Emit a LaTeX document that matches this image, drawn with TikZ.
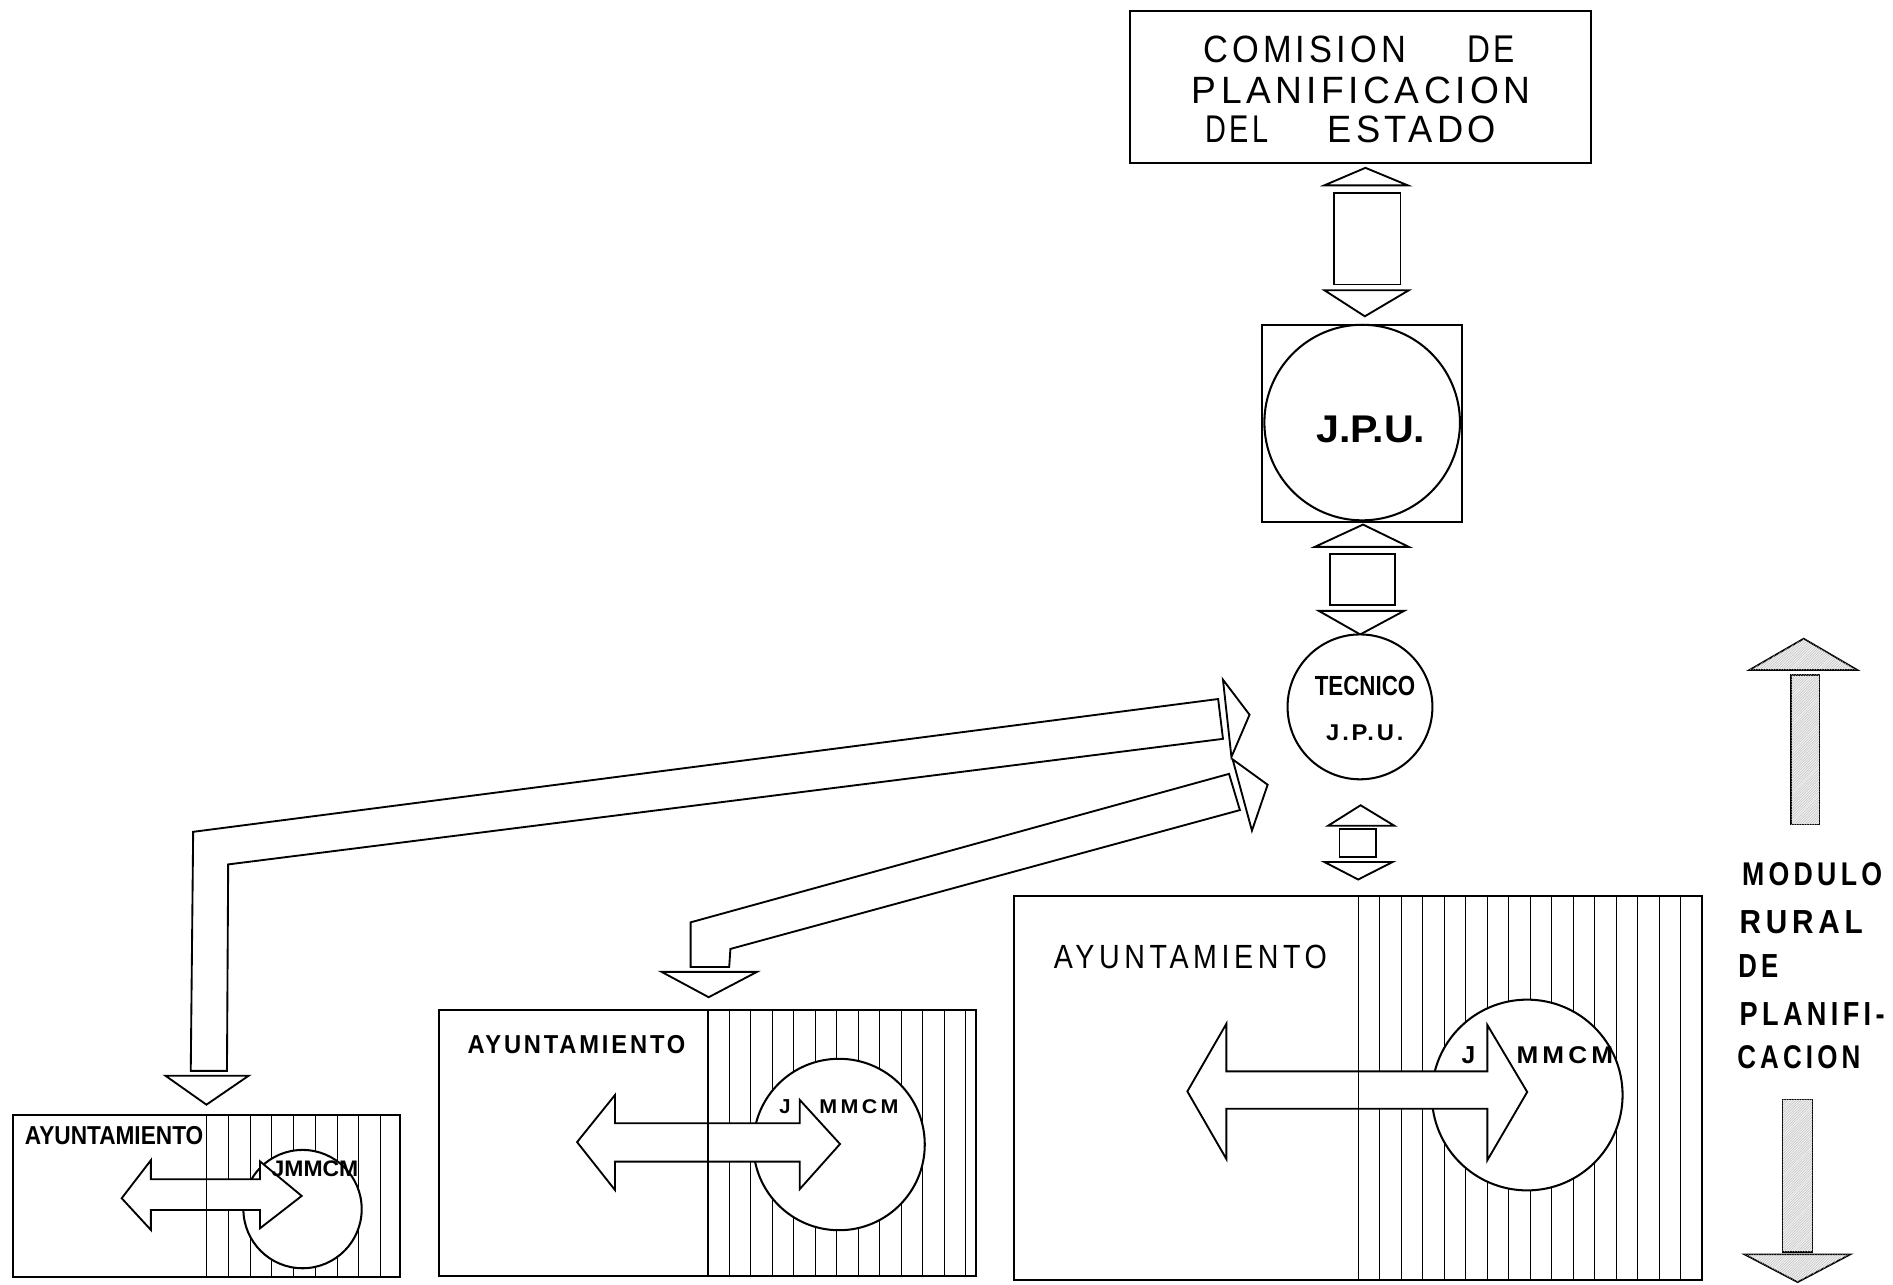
\documentclass[tikz,border=0pt]{standalone}
\usepackage{graphicx}
\usepackage{fontspec}
\setmainfont{Liberation Sans}
\newfontfamily\lsf[LetterSpace=12]{Liberation Sans}
\newfontfamily\lsw[LetterSpace=16]{Liberation Sans}
\usetikzlibrary{patterns}
\newlength\du \setlength\du{0.5mm}
\newcommand{\fitt}[3]{\resizebox{#1\du}{#2\du}{#3}}
\newcommand{\fith}[2]{\resizebox{!}{#1\du}{#2}}
\tikzset{
  stripe/.style={draw=black, line width=1.3pt},
  blk/.style={draw=black, line width=2.2pt, fill=white, line join=miter},
  hatched/.style={draw=black, line width=2pt, fill=gray!12, postaction={pattern=north east lines, pattern color=gray!55}},
  lbl/.style={inner sep=0pt, outer sep=0pt, anchor=west, text=black},
  ring/.style={circle, draw=black, line width=2.4pt, fill=white, inner sep=0pt},
  frame/.style={rectangle, draw=black, line width=2.4pt, inner sep=0pt},
}
\begin{document}
\begin{tikzpicture}[x=0.5mm,y=-0.5mm]
\useasboundingbox (0,0) rectangle (1568,1064);
\fill[white] (0,0) rectangle (1568,1064);

% ---------- top chain ----------
\node[frame, minimum width=191mm, minimum height=63mm] (cpe) at (1127,72) {};
\node[lbl] (t1a) at (996.7,40.7) {\fitt{168}{22}{\lsf COMISION}};
\node[lbl] (t1b) at (1215.4,40.7) {\fitt{39.6}{22}{\lsf DE}};
\node[lbl] (t2) at (987.2,74.9) {\fitt{280.5}{22}{\lsf PLANIFICACION}};
\node[lbl] (t3a) at (998.3,106.9) {\fitt{52.3}{22}{\lsf DEL}};
\node[lbl] (t3b) at (1099.7,106.9) {\fitt{139.5}{22}{\lsf ESTADO}};

% connector 1
\draw[blk] (1097,153.5) -- (1131,139) -- (1166,153.5) -- cycle;
\draw[blk] (1105,160) rectangle (1160,235.6);
\draw[blk] (1097,240.4) -- (1167,240.4) -- (1130.5,262) -- cycle;

\node[frame, minimum width=83mm, minimum height=81.5mm] (jpubox) at (1128,350.5) {};
\node[ring, minimum size=81mm] (jpu) at (1128.3,350) {};
\node[lbl] (jputxt) at (1090.2,356) {\fitt{90.4}{22}{\bfseries J.P.U.}};

% connector 2
\draw[blk] (1089,453) -- (1129,434.5) -- (1167,453) -- cycle;
\draw[blk] (1101.3,458.6) rectangle (1155.2,501);
\draw[blk] (1092.4,506) -- (1163,506) -- (1126.7,525.5) -- cycle;

\node[ring, minimum size=60mm] (tec) at (1126.5,585.5) {};
\node[lbl] (tectxt) at (1089.1,568.4) {\fitt{83.2}{16}{\bfseries TECNICO}};
\node[lbl] (tecjpu) at (1098.5,606.7) {\fitt{64}{13}{\lsf\bfseries J.P.U.}};

% connector 3
\draw[blk] (1100,684) -- (1127,667) -- (1155,684) -- cycle;
\draw[blk] (1109.5,687) rectangle (1140,710);
\draw[blk] (1097,714) -- (1153.5,714) -- (1125,728.5) -- cycle;

% ---------- bent arrows ----------
\draw[blk] (1009,579) -- (160,689) -- (158,887) -- (188,887) -- (189,716) -- (1013,612) -- cycle;
\draw[blk] (1013,563) -- (1035,592) -- (1020,627) -- cycle;
\draw[blk] (137,891) -- (206,891) -- (171,915) -- cycle;

\draw[blk] (1018,641) -- (572,764) -- (572,801) -- (604,801) -- (605,786) -- (1027,671) -- cycle;
\draw[blk] (1021,629) -- (1050,650) -- (1037,688) -- cycle;
\draw[blk] (548,805) -- (627,805) -- (587,826) -- cycle;

% ---------- big ayuntamiento ----------
\node[frame, minimum width=285mm, minimum height=159mm] (ayb) at (1125,901) {};
\foreach \k in {1,...,15} \draw[stripe] ({1125+17.81*\k},742) -- ({1125+17.81*\k},1060);
\node[ring, minimum size=79mm] (cb) at (1265,907) {};
\draw[blk] (983.5,904) -- (1015.8,848) -- (1015.8,887.4) -- (1232,887.4) -- (1232,849) -- (1265,904.5) -- (1232,961) -- (1232,918.4) -- (1015.8,918.4) -- (1015.8,960) -- cycle;
\draw[stripe, line width=1.6pt] (1125,742) -- (1125,1060);
\node[lbl] (ab) at (873,792.5) {\fitt{226}{19.4}{\lsw AYUNTAMIENTO}};
\node[lbl] (jb) at (1210.6,874) {\fith{14}{\bfseries J}};
\node[lbl] (mb) at (1256.2,874) {\fitt{80}{14}{\lsw\bfseries MMCM}};

% ---------- middle ayuntamiento ----------
\node[frame, minimum width=222.6mm, minimum height=110mm] (aym) at (586.2,946.6) {};
\foreach \k in {1,...,12} \draw[stripe] ({586.3+17.8*\k},836.6) -- ({586.3+17.8*\k},1056.6);
\node[ring, minimum size=71mm] (cm) at (695,948) {};
\draw[blk] (478,946) -- (509.4,907) -- (509.4,930.4) -- (662.4,930.4) -- (662.4,911) -- (695.8,947.6) -- (662.4,985) -- (662.4,962.2) -- (509.4,962.2) -- (509.4,985.7) -- cycle;
\draw[stripe, line width=1.6pt] (586.3,836.6) -- (586.3,1056.6);
\node[lbl] (am) at (387.3,865) {\fitt{180.4}{15}{\lsf\bfseries AYUNTAMIENTO}};
\node[lbl] (jm) at (645.5,917) {\fith{11.5}{\bfseries J}};
\node[lbl] (mm) at (678.6,917) {\fitt{65.7}{11.5}{\lsw\bfseries MMCM}};

% ---------- small ayuntamiento ----------
\node[frame, minimum width=160.15mm, minimum height=67.25mm] (ays) at (171.15,990.75) {};
\foreach \k in {1,...,8} \draw[stripe] ({171.2+18*\k},923.5) -- ({171.2+18*\k},1058);
\node[ring, minimum size=49mm] (cs) at (250.6,1001.5) {};
\draw[blk] (100.8,992.5) -- (125,961) -- (125,976.8) -- (215.4,976.8) -- (215.4,962) -- (249.9,990.6) -- (215.4,1017.4) -- (215.4,1002.2) -- (125,1002.2) -- (125,1018.8) -- cycle;
\draw[stripe, line width=1.6pt] (171.2,923.5) -- (171.2,1058);
\node[lbl] (as) at (20.7,940.8) {\fitt{147.7}{15}{\bfseries AYUNTAMIENTO}};
\node[lbl] (ms) at (225,968.5) {\fitt{71.8}{13}{\bfseries JMMCM}};

% ---------- modulo rural ----------
\draw[hatched] (1449,555) -- (1494,529) -- (1538.5,555) -- cycle;
\draw[hatched] (1483.6,559) rectangle (1507,683);
\node[lbl] (m1) at (1443,723.8) {\fitt{116}{19}{\lsw\bfseries MODULO}};
\node[lbl] (m2) at (1441,763.8) {\fitt{102}{19}{\lsw\bfseries RURAL}};
\node[lbl] (m3) at (1440,800.5) {\fitt{33}{19}{\lsw\bfseries DE}};
\node[lbl] (m4) at (1441,840.3) {\fitt{120}{19}{\lsw\bfseries PLANIFI-}};
\node[lbl] (m5) at (1439,875.5) {\fitt{102}{19}{\lsw\bfseries CACION}};
\draw[hatched] (1476.5,910.7) rectangle (1501.2,1037);
\draw[hatched] (1445,1039) -- (1532.6,1039) -- (1489,1062) -- cycle;
\end{tikzpicture}
\end{document}
